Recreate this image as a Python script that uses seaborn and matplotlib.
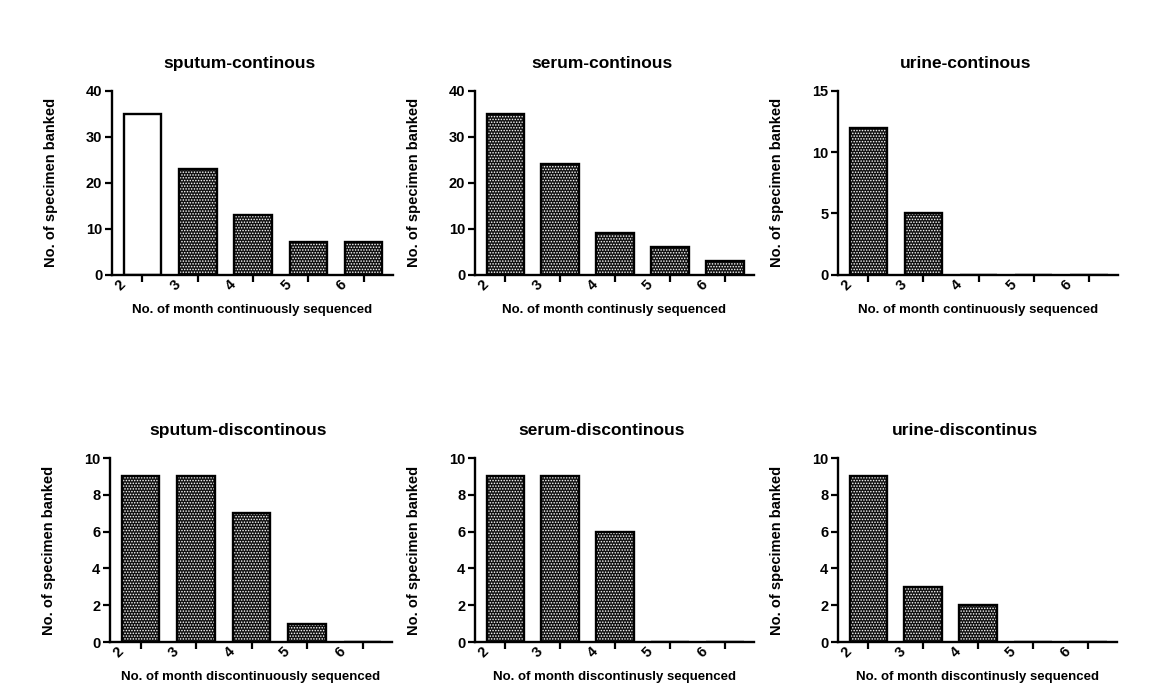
import matplotlib
matplotlib.use("Agg")
import matplotlib.pyplot as plt
import seaborn as sns
import pandas as pd
import numpy as np

# ---- data ----
months = ["2", "3", "4", "5", "6"]
sputum_cont = [35, 23, 13, 7, 7]
serum_cont = [35, 24, 9, 6, 3]
urine_cont = [12, 5, 0, 0, 0]
sputum_disc = [9, 9, 7, 1, 0]
serum_disc = [9, 9, 6, 0, 0]
urine_disc = [9, 3, 2, 0, 0]

series = [sputum_cont, serum_cont, urine_cont, sputum_disc, serum_disc, urine_disc]
titles = ["sputum-continous", "serum-continous", "urine-continous",
          "sputum-discontinous", "serum-discontinous", "urine-discontinus"]
xlabels = ["No. of month continuously sequenced",
           "No. of month continusly sequenced",
           "No. of month continuously sequenced",
           "No. of month discontinuously sequenced",
           "No. of month discontinusly sequenced",
           "No. of month discontinusly sequenced"]
ylabel = "No. of specimen banked"
yticks = [[0, 10, 20, 30, 40], [0, 10, 20, 30, 40], [0, 5, 10, 15],
          [0, 2, 4, 6, 8, 10], [0, 2, 4, 6, 8, 10], [0, 2, 4, 6, 8, 10]]
open_bars = [[0], [], [], [], [], []]   # bars drawn without pattern

# ---- style ----
sns.set_style("ticks")
plt.rcParams["font.family"] = ["Liberation Sans", "DejaVu Sans"]
plt.rcParams["font.weight"] = "bold"
plt.rcParams["text.color"] = "black"
plt.rcParams["axes.labelcolor"] = "black"
plt.rcParams["xtick.color"] = "black"
plt.rcParams["ytick.color"] = "black"
plt.rcParams["hatch.color"] = "white"
plt.rcParams["hatch.linewidth"] = 0.7

W, H = 1159, 700
fig = plt.figure(figsize=(W / 100, H / 100), dpi=100)

# axes boxes in pixels: (left, top, right, bottom)
boxes = [(112, 91, 393, 274.5), (475, 91, 754, 274.5), (838, 91, 1118, 274.5),
         (110, 458, 392, 642), (475, 458, 754, 642), (838, 458, 1117, 642)]

for k, (vals, title, xl, yt, ob, box) in enumerate(
        zip(series, titles, xlabels, yticks, open_bars, boxes)):
    l, t, r, b = box
    ax = fig.add_axes([l / W, 1 - b / H, (r - l) / W, (b - t) / H])
    wpx, hpx = r - l, b - t
    df = pd.DataFrame({"month": months, "count": vals})

    sns.barplot(data=df, x="month", y="count", order=months, color="black",
                width=0.68, saturation=1, edgecolor="white", linewidth=0,
                errorbar=None, ax=ax)
    for i, p in enumerate(ax.patches):
        if i in ob:
            p.set_facecolor("white")
            p.set_hatch(None)
        else:
            p.set_facecolor("#111111")
            p.set_hatch("......")
    sns.barplot(data=df, x="month", y="count", order=months, color="black",
                width=0.68, fill=False, linewidth=1.7, errorbar=None, ax=ax)

    ax.set_xlim(-0.55, 4.53)
    ax.set_ylim(0, yt[-1])
    ax.set_yticks(yt)
    ax.set_yticklabels([str(v) for v in yt], fontsize=10.5, fontweight="bold")

    ax.set_xticks(np.arange(len(months)))
    ax.set_xticklabels([])
    ax.set_xticks(np.arange(len(months)) - 0.4, minor=True)
    ax.set_xticklabels(months, minor=True, rotation=45, ha="center",
                       fontsize=10.5, fontweight="bold")
    ax.tick_params(axis="x", which="minor", length=0, pad=2)
    ax.tick_params(axis="both", which="major", length=5, width=1.6,
                   direction="out", color="black")
    ax.tick_params(axis="y", pad=2)

    sns.despine(ax=ax)
    for s in ("left", "bottom"):
        ax.spines[s].set_linewidth(1.7)
        ax.spines[s].set_color("black")

    ax.set_xlabel(xl, fontsize=9.5, fontweight="bold", color="black")
    ax.xaxis.set_label_coords(0.5, -29 / hpx)
    ax.set_ylabel(ylabel, fontsize=10.5, fontweight="bold", color="black")
    ax.yaxis.set_label_coords(-54 / wpx, 0.5)
    ax.set_title(title, fontsize=12.5, fontweight="bold", x=0.455,
                 y=1 + 23 / hpx, pad=0, color="black")

fig.savefig("out.png", dpi=100)
